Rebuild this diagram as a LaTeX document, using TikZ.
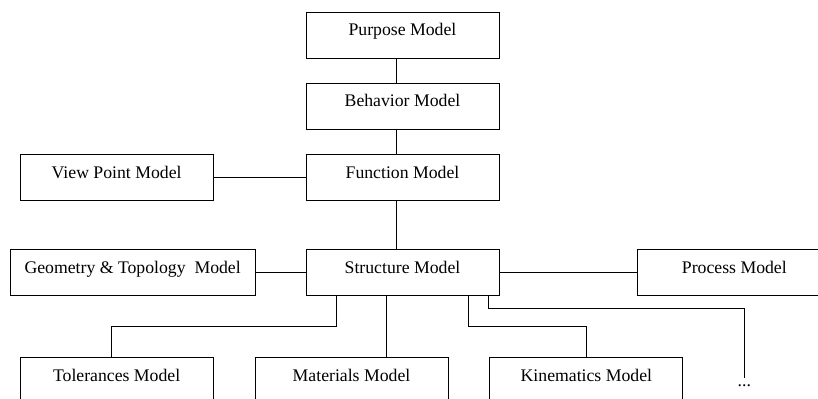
\documentclass[tikz,border=0pt]{standalone}
\usepackage{fontspec}
\setmainfont{Liberation Serif}
\usetikzlibrary{positioning}

\begin{document}
\begin{tikzpicture}[line width=0.6pt, font=\fontsize{12.6pt}{15pt}\selectfont]
	\tikzstyle{block} = [draw, rectangle, inner sep=0pt, minimum height=1.15cm, minimum width=4.825cm, text height=0.3cm, text depth=0.27cm]
	
	\useasboundingbox (0,0) rectangle (20.45,-9.95);
	
	\node [block] (structure) at (10.0625,-6.8125) {Structure Model};
	\node [block, above = 1.2cm of structure] (function) {Function Model};
	\node [block, above = 0.62cm of function] (behavior) {Behavior Model};
	\node [block, above = 0.6cm of behavior] (purpose) {Purpose Model};
	
	\node [block, left = 2.3cm of function] (viewpoint) {View Point Model};
	
	\node [block, minimum width=6.125cm, left = 1.25cm of structure] (geometry) {Geometry \& Topology\ \ Model};
	\node [block, right = 3.45cm of structure] (process) {Process Model};
	
	\node [block, below = 1.53cm of structure, xshift=-1.275cm] (materials) {Materials Model};
	\node [block, left = 1.025cm of materials] (tolerances) {Tolerances Model};
	\node [block, right = 1.025cm of materials] (kinematics) {Kinematics Model};
	
	\node [inner sep=0.15cm, right = 1.2cm of kinematics, yshift=-0.12cm] (more) {...};
	
	\draw [-] ([xshift=-0.14cm]purpose.south) -- ([xshift=-0.14cm]behavior.north);
	\draw [-] ([xshift=-0.14cm]behavior.south) -- ([xshift=-0.14cm]function.north);
	\draw [-] ([xshift=-0.14cm]function.south) -- ([xshift=-0.14cm]structure.north);
	\draw [-] (viewpoint) -- (function);
	\draw [-] (geometry) -- (structure);
	\draw [-] (structure) -- (process);
	
	\draw [-] ([xshift=-1.65cm]structure.south) -- ++(0,-0.76) -| ([xshift=-0.13cm]tolerances.north);
	\draw [-] ([xshift=-0.4cm]structure.south) -- ([xshift=-0.4cm]structure.south |- materials.north);
	\draw [-] ([xshift=1.65cm]structure.south) -- ++(0,-0.76) -| (kinematics.north);
	\draw [-] ([xshift=2.14cm]structure.south) -- ++(0,-0.3) -| (more.north);
\end{tikzpicture}
\end{document}
